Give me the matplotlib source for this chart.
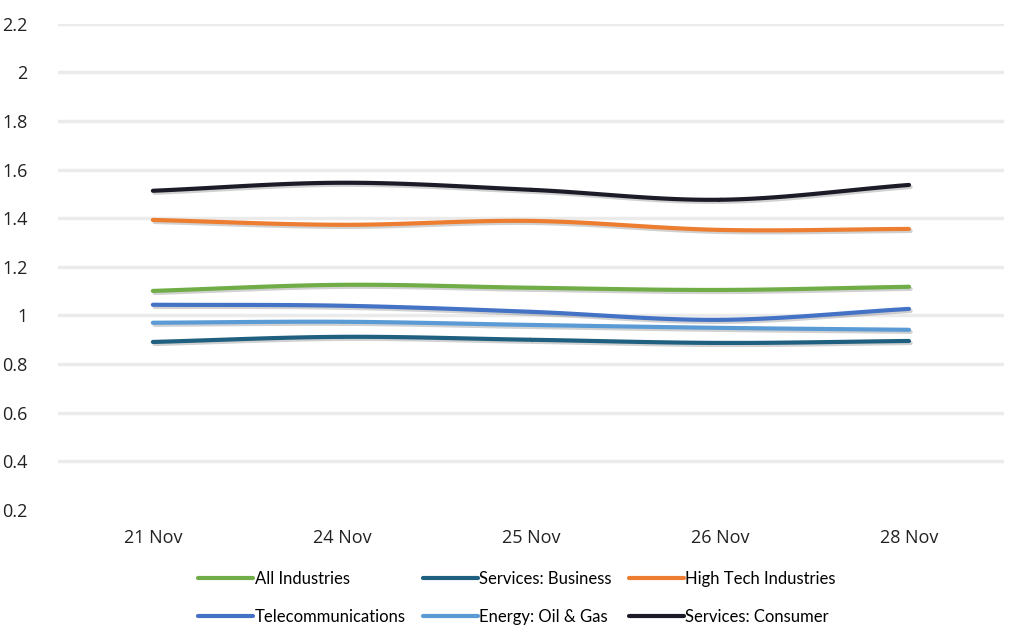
import numpy as np
import matplotlib
matplotlib.use("Agg")
import matplotlib.pyplot as plt
import matplotlib.patheffects as pe

dates = ["21 Nov", "24 Nov", "25 Nov", "26 Nov", "28 Nov"]
all_industries = [1.101, 1.126, 1.114, 1.105, 1.118]
services_business = [0.891, 0.912, 0.900, 0.887, 0.895]
high_tech = [1.393, 1.373, 1.389, 1.352, 1.356]
telecom = [1.044, 1.040, 1.015, 0.982, 1.027]
energy = [0.970, 0.974, 0.961, 0.949, 0.941]
services_consumer = [1.513, 1.546, 1.517, 1.476, 1.537]

series = [
    ("All Industries", all_industries, "#70ad47"),
    ("Services: Business", services_business, "#1f5f7f"),
    ("High Tech Industries", high_tech, "#ed7d31"),
    ("Telecommunications", telecom, "#4472c4"),
    ("Energy: Oil & Gas", energy, "#5b9bd5"),
    ("Services: Consumer", services_consumer, "#1c1c28"),
]


def smooth(x, y, n=30):
    # catmull-rom style curve through the points, like excel's smoothed line
    x = np.asarray(x, float)
    y = np.asarray(y, float)
    px = np.concatenate([[2 * x[0] - x[1]], x, [2 * x[-1] - x[-2]]])
    py = np.concatenate([[2 * y[0] - y[1]], y, [2 * y[-1] - y[-2]]])
    xs, ys = [], []
    for i in range(1, len(px) - 2):
        t = np.linspace(0, 1, n)
        for arr, out in ((px, xs), (py, ys)):
            p0, p1, p2, p3 = arr[i - 1], arr[i], arr[i + 1], arr[i + 2]
            out.append(0.5 * (2 * p1 + (-p0 + p2) * t
                              + (2 * p0 - 5 * p1 + 4 * p2 - p3) * t ** 2
                              + (-p0 + 3 * p1 - 3 * p2 + p3) * t ** 3))
    return np.concatenate(xs), np.concatenate(ys)


fig = plt.figure(figsize=(10.24, 6.43), dpi=100)
ax = fig.add_axes([0.057, 0.207, 0.923, 0.756])

xpos = np.arange(len(dates))
shadow = [pe.SimpleLineShadow(offset=(1.2, -1.5), shadow_color="#000000", alpha=0.18), pe.Normal()]
for name, vals, col in series:
    sx, sy = smooth(xpos, vals)
    ax.plot(sx, sy, color=col, lw=3, label=name, solid_capstyle="round", path_effects=shadow)

ax.set_xlim(-0.5, len(dates) - 0.5)
ax.set_ylim(0.2, 2.2)
yt = [0.2, 0.4, 0.6, 0.8, 1.0, 1.2, 1.4, 1.6, 1.8, 2.0, 2.2]
ax.set_yticks(yt)
ax.set_yticklabels(["0.2", "0.4", "0.6", "0.8", "1", "1.2", "1.4", "1.6", "1.8", "2", "2.2"],
                   fontsize=13, family="Open Sans", color="#222222")
ax.set_xticks(xpos)
ax.set_xticklabels(dates, fontsize=13, family="Open Sans", color="#222222")
ax.tick_params(length=0, pad=14)
ax.tick_params(axis="y", pad=22)
for s in ax.spines.values():
    s.set_visible(False)
ax.grid(axis="y", color="#ebebeb", lw=2.5)
ax.get_ygridlines()[0].set_visible(False)
ax.set_axisbelow(True)

handles, labels = ax.get_legend_handles_labels()
order = [0, 3, 1, 4, 2, 5]  # legend fills by column, reorder so rows read left to right
leg = fig.legend([handles[i] for i in order], [labels[i] for i in order], loc="center",
                 bbox_to_anchor=(0.505, 0.070), ncol=3, frameon=False,
                 prop={"family": "Lato", "size": 12}, handlelength=3.3,
                 handletextpad=0.1, columnspacing=1.0, labelspacing=1.35)
for l in leg.get_lines():
    l.set_linewidth(3)
    l.set_path_effects([])

fig.savefig("out.png", dpi=100)
